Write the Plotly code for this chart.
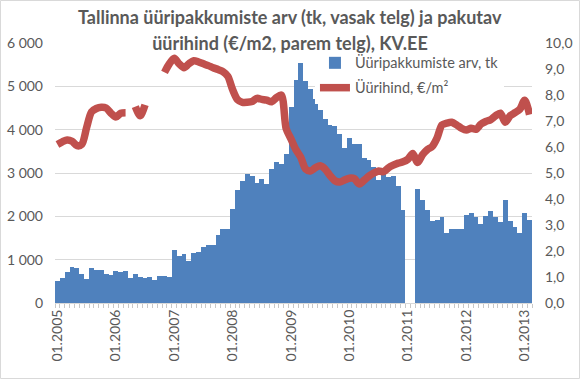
import plotly.graph_objects as go

# Monthly categories Jan 2005 .. Feb 2013
months = [f"{m:02d}.{y}" for y in range(2005, 2014) for m in range(1, 13)][:98]

# Number of rental offers (left axis)
offers = [
    510, 585, 727, 835, 815, 680, 558, 805, 769, 754, 677, 635,
    735, 723, 738, 585, 677, 610, 585, 600, 523, 627, 630, 600,
    1215, 1090, 1135, 969, 1154, 1173, 1292, 1350, 1338, 1558, 1708, 1708,
    2177, 2600, 2815, 2969, 2923, 2760, 2855, 2738, 3100, 3246, 3215, 3431,
    4515, 5138, 5550, 5120, 4950, 4700, 4450, 4250, 4100, 4077, 3900, 3570,
    3808, 3677, 3677, 3350, 3310, 3150, 2840, 3020, 2915, 2940, 2700, 2150,
    None, None, 2625, 2370, 2146, 1892, 1923, 1975, 1615, 1710, 1712, 1712,
    2040, 2077, 1985, 1825, 2015, 2123, 1985, 1877, 2369, 1892, 1754, 1615,
    2077, 1908,
]

# Offered rent price EUR/m2 (right axis)
prices = [
    6.10, 6.20, 6.27, 6.22, 6.05, 6.10, 6.75, 7.35, 7.48, 7.53, 7.50, 7.30,
    7.15, 7.30, 7.32, None, 7.55, 7.20, 7.62, None, None, None, 8.87, 9.20,
    9.41, 9.20, 9.05, 9.20, 9.32, 9.27, 9.20, 9.13, 9.05, 8.98, 8.90, 8.72,
    8.20, 7.82, 7.72, 7.72, 7.75, 7.87, 7.83, 7.80, 7.74, 7.90, 8.00, 6.70,
    6.30, 5.90, 5.60, 5.15, 5.08, 5.20, 5.28, 5.15, 4.90, 4.70, 4.65, 4.73,
    4.80, 4.78, 4.58, 4.72, 4.88, 5.00, 5.08, 5.05, 5.20, 5.30, 5.38, 5.43,
    5.53, 5.75, 5.40, 5.70, 5.90, 6.02, 6.35, 6.85, 6.92, 6.95, 6.85, 6.72,
    6.65, 6.72, 6.68, 6.88, 6.98, 7.05, 7.20, 7.30, 6.95, 7.20, 7.32, 7.45,
    7.80, 7.25,
]

tick_text = [m if m.startswith("01.") else "" for m in months]

title_line1 = "Tallinna üüripakkumiste arv (tk, vasak telg) ja pakutav"
title_line2 = "üürihind (€/m2, parem telg), KV.EE"

GRAY = "#595959"
FONT = "Lato"

fig = go.Figure()
fig.add_trace(go.Bar(
    x=months, y=offers, name="Üüripakkumiste arv, tk",
    marker=dict(color="#4F81BD", line=dict(width=0)),
    legendgroup="a",
))
fig.add_trace(go.Scatter(
    x=months, y=prices, name="Üürihind, €/m²", yaxis="y2",
    mode="lines", line=dict(color="#C0504D", width=7.5, shape="spline", smoothing=0.8),
    connectgaps=False, legendgroup="b",
))

fig.update_layout(
    width=580, height=379,
    margin=dict(l=55, r=48, t=43, b=76, autoexpand=False),
    paper_bgcolor="white", plot_bgcolor="white",
    font=dict(family=FONT, size=14, color=GRAY),
    separators=", ",
    bargap=0,
    showlegend=True,
    legend=dict(
        x=0.545, y=0.985, xanchor="left", yanchor="top",
        bgcolor="white", font=dict(size=14.5, color=GRAY),
        traceorder="grouped", tracegroupgap=3,
        itemwidth=30,
    ),
    xaxis=dict(
        type="category", range=[-0.5, 97.5], automargin=False,
        tickmode="array", tickvals=months, ticktext=tick_text,
        tickson="boundaries", ticks="outside", ticklen=4, tickcolor="#C8C8C8",
        tickangle=-90, showgrid=False, showline=True, linecolor="#D9D9D9",
        tickfont=dict(size=14, color=GRAY), zeroline=False,
    ),
    yaxis=dict(
        range=[0, 6000], dtick=1000, tickformat=",d", automargin=False,
        showgrid=True, gridcolor="#D9D9D9", gridwidth=1,
        zeroline=False, ticks="", ticklabelstandoff=11,
        tickfont=dict(size=14, color=GRAY),
    ),
    yaxis2=dict(
        range=[0, 10], dtick=1, tickformat=".1f", automargin=False,
        overlaying="y", side="right", showgrid=False, zeroline=False,
        ticks="", ticklabelstandoff=12,
        tickfont=dict(size=14, color=GRAY),
    ),
    annotations=[
        dict(text="<b>" + title_line1 + "</b>", xref="paper", yref="paper",
             x=0.4927, y=1.1, xanchor="center", yanchor="middle", showarrow=False,
             font=dict(size=18, color=GRAY, family=FONT)),
        dict(text="<b>" + title_line2 + "</b>", xref="paper", yref="paper",
             x=0.4927, y=1.0, xanchor="center", yanchor="middle", showarrow=False,
             width=426, height=20, borderpad=0, bgcolor="white",
             font=dict(size=18, color=GRAY, family=FONT)),
    ],
    shapes=[
        dict(type="rect", xref="paper", yref="paper",
             x0=-0.11426, x1=1.09958, y0=-0.29038, y1=1.16346,
             line=dict(color="#D9D9D9", width=1), layer="below"),
    ],
)

fig.write_html("out.html", config={"displayModeBar": False},
               post_script="document.body.style.margin='0';")
